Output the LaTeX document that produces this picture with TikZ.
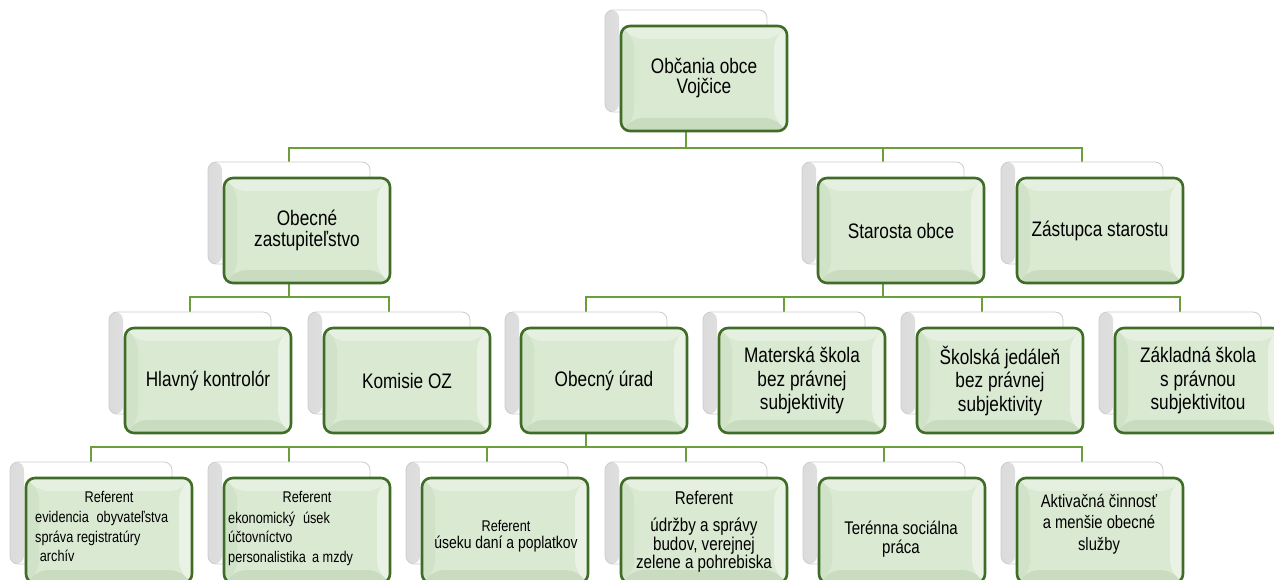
\documentclass[tikz,border=0pt]{standalone}
\usepackage{fontspec}
\setmainfont{Liberation Sans}[FakeStretch=0.82]
\usetikzlibrary{calc}
\pgfdeclarelayer{bg}
\pgfsetlayers{bg,main}
\definecolor{fgreen}{HTML}{3F6D28}
\definecolor{cfill}{HTML}{DAE9D2}
\definecolor{btop}{HTML}{E6F0E1}
\definecolor{bbot}{HTML}{CADCC0}
\definecolor{bleft}{HTML}{D0E2C7}
\definecolor{bright}{HTML}{E9F2E4}
\definecolor{linegreen}{HTML}{6A9F3C}
\newcommand\orgpb{path picture bounding box}
\tikzset{
  orgline/.style={draw=linegreen, line width=2.8pt},
  backbox/.style={rectangle, rounded corners=8pt, minimum width=162pt, minimum height=102pt,
    inner sep=0pt, draw=black!20, line width=0.8pt, fill=white,
    path picture={
      \shade[left color=black!14, right color=white] (\orgpb.south west) rectangle ([xshift=14pt]\orgpb.north west);
      \shade[top color=white, bottom color=black!12] ([xshift=14pt]\orgpb.south west) rectangle ([yshift=9pt]\orgpb.south east);
    }},
  frontbox/.style={rectangle, rounded corners=9pt, minimum width=166pt, minimum height=105pt,
    inner sep=0pt, draw=fgreen, line width=2.6pt, fill=cfill, align=center, text=black,
    font=\fontsize{21}{23}\selectfont,
    path picture={
      \fill[btop] (\orgpb.north west) -- (\orgpb.north east) -- ([shift={(-13pt,-13pt)}]\orgpb.north east) -- ([shift={(13pt,-13pt)}]\orgpb.north west) -- cycle;
      \fill[bbot] (\orgpb.south west) -- (\orgpb.south east) -- ([shift={(-13pt,13pt)}]\orgpb.south east) -- ([shift={(13pt,13pt)}]\orgpb.south west) -- cycle;
      \fill[bleft] (\orgpb.north west) -- ([shift={(13pt,-13pt)}]\orgpb.north west) -- ([shift={(13pt,13pt)}]\orgpb.south west) -- (\orgpb.south west) -- cycle;
      \fill[bright] (\orgpb.north east) -- ([shift={(-13pt,-13pt)}]\orgpb.north east) -- ([shift={(-13pt,13pt)}]\orgpb.south east) -- (\orgpb.south east) -- cycle;
    }},
  lbl/.style={inner sep=0pt, text=black, align=center},
  lbll/.style={inner sep=0pt, text=black, align=left, anchor=north west, font=\fontsize{15.5}{19.5}\selectfont},
}
\begin{document}
\begin{tikzpicture}[x=1pt, y=-1pt]
\useasboundingbox (0,0) rectangle (1274,580);
\clip (0,0) rectangle (1274,580);
\coordinate (bus1) at (0,148);
\coordinate (bus2) at (0,297);
\coordinate (bus3) at (0,447);
% back boxes
\node[backbox] (topS) at (686,61) {};
\node[backbox] (obzS) at (289,213) {};
\node[backbox] (starS) at (883,213) {};
\node[backbox] (zasS) at (1082,213) {};
\node[backbox] (hkS) at (190,363) {};
\node[backbox] (komS) at (389,363) {};
\node[backbox] (ouS) at (586,363) {};
\node[backbox] (msS) at (784,363) {};
\node[backbox] (sjS) at (982,363) {};
\node[backbox] (zsS) at (1180,363) {};
\node[backbox] (r1S) at (91,513) {};
\node[backbox] (r2S) at (289,513) {};
\node[backbox] (r3S) at (487,513) {};
\node[backbox] (r4S) at (686,513) {};
\node[backbox] (r5S) at (884,513) {};
\node[backbox] (r6S) at (1082,513) {};
% front boxes
\node[frontbox, font=\fontsize{21}{20}\selectfont] (top) at (704,78.5) {Občania obce\\Vojčice};
\node[frontbox, font=\fontsize{21}{21}\selectfont] (obz) at (307,230.5) {Obecné\\zastupiteľstvo};
\node[frontbox] (star) at (901,230.5) {Starosta obce};
\node[frontbox] (zas) at (1100,230.5) {Zástupca starostu};
\node[frontbox] (hk) at (208,380.5) {Hlavný kontrolór};
\node[frontbox] (kom) at (407,380.5) {Komisie OZ};
\node[frontbox] (ou) at (604,380.5) {Obecný úrad};
\node[frontbox, font=\fontsize{21}{23.5}\selectfont] (ms) at (802,380.5) {Materská škola\\bez právnej\\subjektivity};
\node[frontbox, font=\fontsize{21}{23.5}\selectfont] (sj) at (1000,380.5) {Školská jedáleň\\bez právnej\\subjektivity};
\node[frontbox, font=\fontsize{21}{23.5}\selectfont] (zs) at (1198,380.5) {Základná škola\\s právnou\\subjektivitou};
\node[frontbox] (r1) at (109,530.5) {};
\node[frontbox] (r2) at (307,530.5) {};
\node[frontbox] (r3) at (505,530.5) {};
\node[frontbox] (r4) at (704,530.5) {};
\node[frontbox] (r5) at (902,530.5) {};
\node[frontbox] (r6) at (1100,530.5) {};
% bottom row texts
\node[lbl, anchor=base, font=\fontsize{15.5}{16}\selectfont] (r1t) at (109,502) {Referent};
\node[lbll] (r1b) at (35,511.5) {evidencia\hspace{0.5em}obyvateľstva\\správa registratúry\\\hspace{0.3em}archív};
\node[lbl, anchor=base, font=\fontsize{15.5}{16}\selectfont] (r2t) at (307,502) {Referent};
\node[lbll] (r2b) at (228,511.5) {ekonomický\hspace{0.5em}úsek\\účtovníctvo\\personalistika\hspace{0.4em}a mzdy};
\node[lbl, font=\fontsize{17}{16.5}\selectfont] (r3t) at (506,536) {{\fontsize{15.5}{16.5}\selectfont Referent}\\úseku daní a poplatkov};
\node[lbl, font=\fontsize{18.5}{18.5}\selectfont] (r4t) at (704,532) {Referent\\[8.5pt]údržby a správy\\budov, verejnej\\zelene a pohrebiska};
\node[lbl, font=\fontsize{18.3}{18.5}\selectfont] (r5t) at (901,539) {Terénna sociálna\\práca};
\node[lbl, font=\fontsize{18}{21.5}\selectfont] (r6t) at (1099,524) {Aktivačná činnosť\\a menšie obecné\\služby};
% connectors
\begin{pgfonlayer}{bg}
\draw[orgline] (topS.south) |- (obzS.north |- bus1) -- (obzS.north);
\draw[orgline] (topS.south) |- (zasS.north |- bus1) -- (zasS.north);
\draw[orgline] (starS.north |- bus1) -- (starS.north);
\draw[orgline] (obzS.south) |- (hkS.north |- bus2) -- (hkS.north);
\draw[orgline] (obzS.south) |- (komS.north |- bus2) -- (komS.north);
\draw[orgline] (starS.south) |- (ouS.north |- bus2) -- (ouS.north);
\draw[orgline] (starS.south) |- (zsS.north |- bus2) -- (zsS.north);
\draw[orgline] (msS.north |- bus2) -- (msS.north);
\draw[orgline] (sjS.north |- bus2) -- (sjS.north);
\draw[orgline] (ouS.south) |- (r1S.north |- bus3) -- (r1S.north);
\draw[orgline] (ouS.south) |- (r6S.north |- bus3) -- (r6S.north);
\draw[orgline] (r2S.north |- bus3) -- (r2S.north);
\draw[orgline] (r3S.north |- bus3) -- (r3S.north);
\draw[orgline] (r4S.north |- bus3) -- (r4S.north);
\draw[orgline] (r5S.north |- bus3) -- (r5S.north);
\end{pgfonlayer}
\end{tikzpicture}
\end{document}
